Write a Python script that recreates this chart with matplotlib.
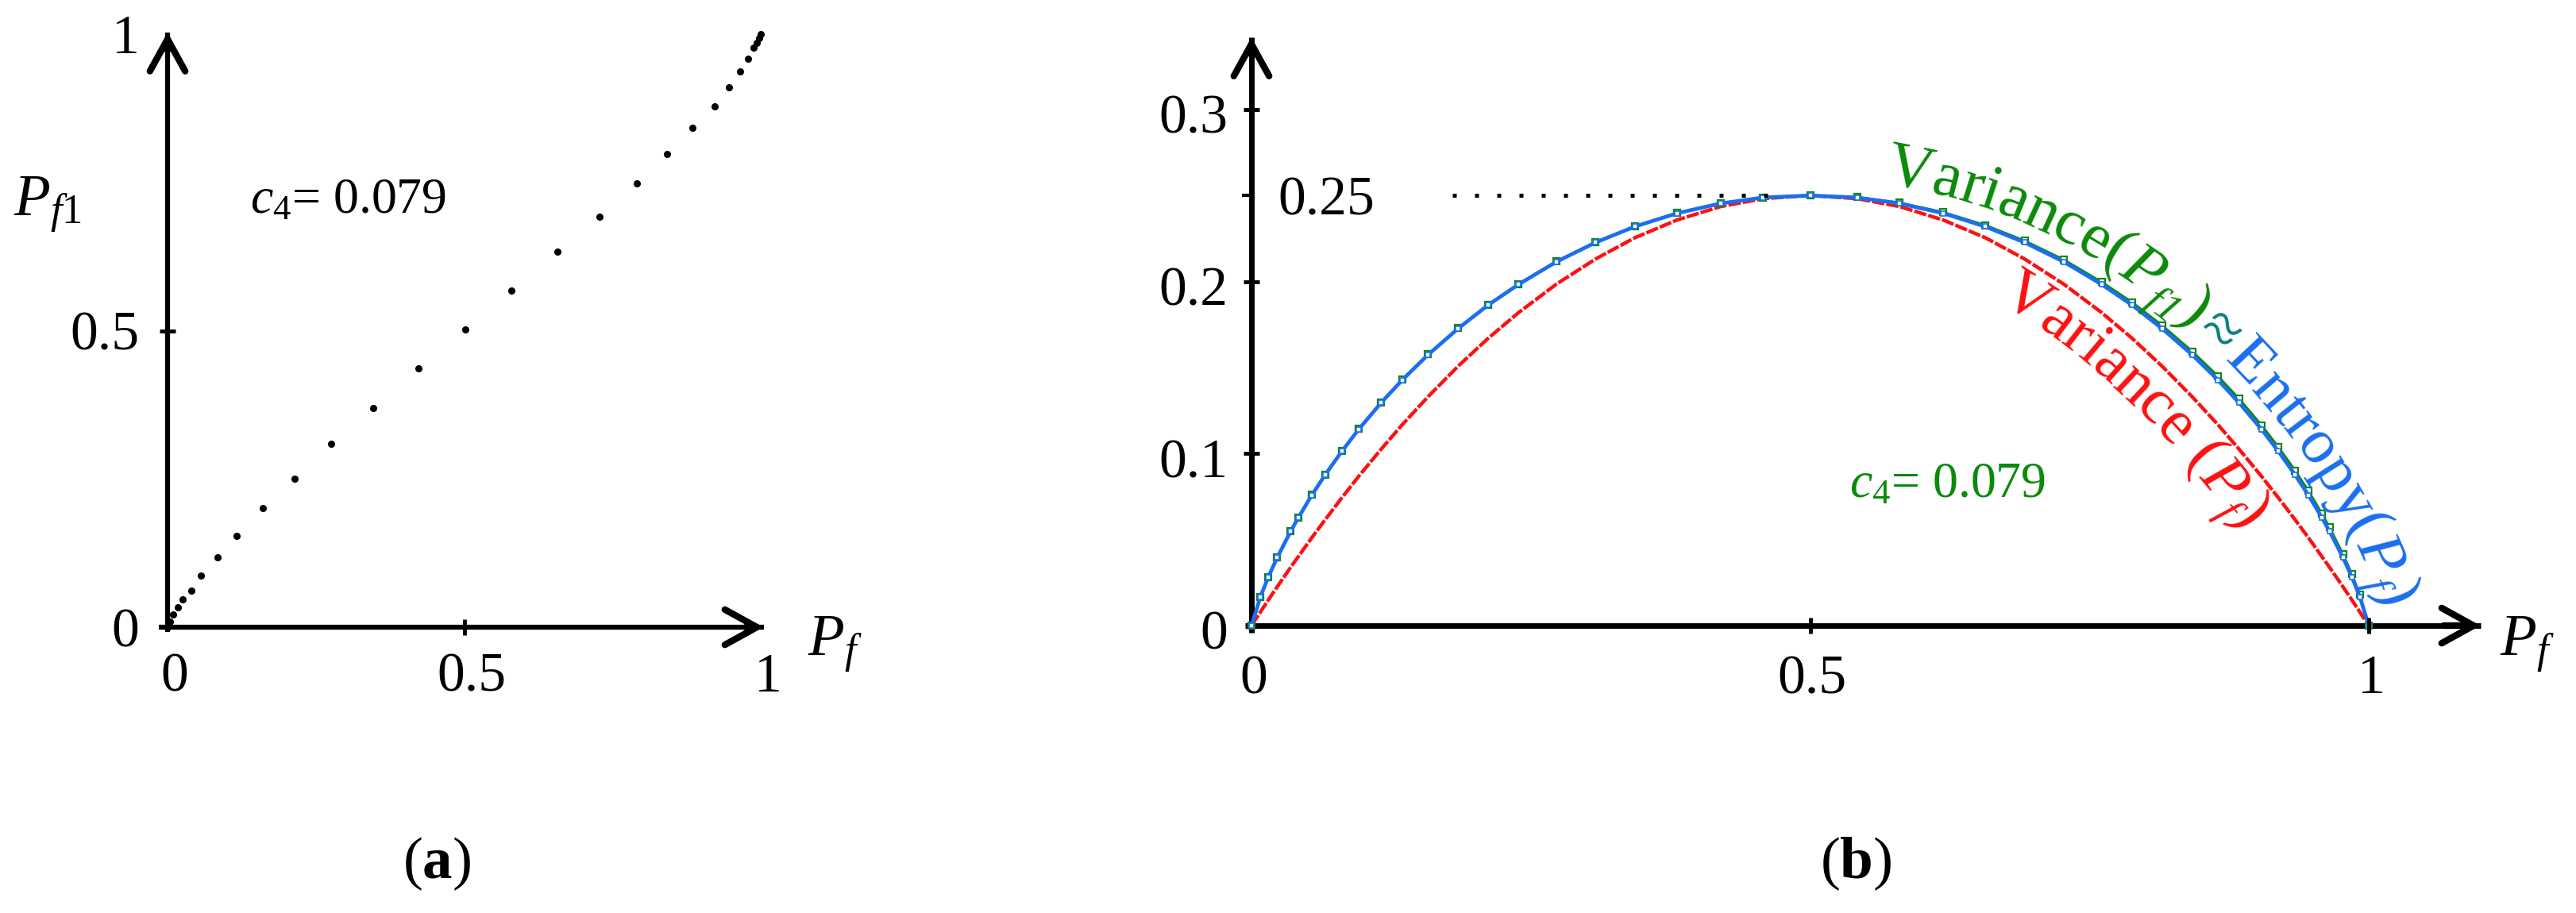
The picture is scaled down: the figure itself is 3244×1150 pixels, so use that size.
import numpy as np
import matplotlib
matplotlib.use("Agg")
import matplotlib.pyplot as plt
from matplotlib.font_manager import FontProperties, findfont, get_font
from matplotlib.transforms import IdentityTransform

plt.rcParams['font.family'] = ['Liberation Serif', 'DejaVu Serif']
plt.rcParams['mathtext.fontset'] = 'custom'
plt.rcParams['mathtext.rm'] = 'Liberation Serif'
plt.rcParams['mathtext.it'] = 'Liberation Serif:italic'
plt.rcParams['mathtext.bf'] = 'Liberation Serif:bold'

# ---- data ----
# (a) Pf1 against Pf, dotted
pf_a = [0.0, 0.004, 0.010, 0.017, 0.025, 0.040, 0.056, 0.084, 0.117, 0.161, 0.214,
        0.276, 0.347, 0.423, 0.502, 0.580, 0.657, 0.728, 0.791, 0.842, 0.885,
        0.922, 0.947, 0.965, 0.979, 0.988, 0.993, 0.997, 1.0]
pf1_a = [0.0, 0.009, 0.021, 0.033, 0.047, 0.062, 0.087, 0.118, 0.154, 0.201, 0.250,
         0.309, 0.369, 0.436, 0.502, 0.568, 0.633, 0.692, 0.748, 0.798, 0.842,
         0.878, 0.910, 0.937, 0.959, 0.977, 0.985, 0.993, 1.0]

# (b) curves against Pf
pf_b = [0.0, 0.008, 0.015, 0.023, 0.035, 0.042, 0.054, 0.066, 0.081, 0.096, 0.116,
        0.135, 0.158, 0.185, 0.212, 0.239, 0.273, 0.308, 0.343, 0.381, 0.420, 0.458,
        0.500, 0.542, 0.580, 0.619, 0.657, 0.692, 0.727, 0.761, 0.788, 0.815, 0.842,
        0.865, 0.884, 0.904, 0.919, 0.934, 0.946, 0.958, 0.965, 0.977, 0.985, 0.992, 1.0]
var_pf = [0.0, 0.0079, 0.0148, 0.0225, 0.0338, 0.0402, 0.0511, 0.0616, 0.0744, 0.0868, 0.1025,
          0.1168, 0.1330, 0.1508, 0.1671, 0.1819, 0.1985, 0.2131, 0.2254, 0.2358, 0.2436, 0.2482,
          0.2500, 0.2482, 0.2436, 0.2358, 0.2254, 0.2131, 0.1985, 0.1819, 0.1671, 0.1508, 0.1330,
          0.1168, 0.1025, 0.0868, 0.0744, 0.0616, 0.0511, 0.0402, 0.0338, 0.0225, 0.0148, 0.0079, 0.0]
entropy_pf = [0.0, 0.0168, 0.0281, 0.0395, 0.0547, 0.0628, 0.0758, 0.0877, 0.1014, 0.1141, 0.1295,
              0.1428, 0.1574, 0.1727, 0.1864, 0.1983, 0.2115, 0.2227, 0.2319, 0.2397, 0.2454, 0.2488,
              0.2500, 0.2488, 0.2454, 0.2397, 0.2319, 0.2227, 0.2115, 0.1983, 0.1864, 0.1727, 0.1574,
              0.1428, 0.1295, 0.1141, 0.1014, 0.0877, 0.0758, 0.0628, 0.0547, 0.0395, 0.0281, 0.0168, 0.0]
var_pf1 = [0.0, 0.0168, 0.0282, 0.0396, 0.0548, 0.0629, 0.0760, 0.0879, 0.1016, 0.1143, 0.1297,
           0.1430, 0.1576, 0.1729, 0.1866, 0.1985, 0.2117, 0.2229, 0.2321, 0.2399, 0.2455, 0.2489,
           0.2500, 0.2490, 0.2458, 0.2403, 0.2327, 0.2237, 0.2127, 0.1997, 0.1880, 0.1745, 0.1594,
           0.1450, 0.1318, 0.1165, 0.1039, 0.0902, 0.0783, 0.0652, 0.0570, 0.0415, 0.0298, 0.0180, 0.0]

a_xticks = [0, 0.5, 1]
a_xlabels = ['0', '0.5', '1']
a_yticks = [0, 0.5, 1]
a_ylabels = ['0', '0.5', '1']
b_xticks = [0, 0.5, 1]
b_xlabels = ['0', '0.5', '1']
b_yticks = [0, 0.1, 0.2, 0.3]
b_ylabels = ['0', '0.1', '0.2', '0.3']
peak = 0.25

GREEN = '#0b8a0b'
BLUE = '#1a6ff0'
RED = '#ff1010'
TEAL = '#0a7f7f'

W, H, DPI = 3244, 1150, 100
fig = plt.figure(figsize=(W / DPI, H / DPI), dpi=DPI)


def place(ax, x0, sx, y0, sy, xlim, ylim):
    # x0/y0: pixel of data origin (y from top), sx/sy: pixels per unit
    left, right = x0 + sx * xlim[0], x0 + sx * xlim[1]
    bottom, top = y0 - sy * ylim[0], y0 - sy * ylim[1]
    ax.set_position([left / W, (H - bottom) / H, (right - left) / W, (bottom - top) / H])
    ax.set_xlim(xlim)
    ax.set_ylim(ylim)
    ax.axis('off')


def axes_arrows(ax, xtip, ytip, x0, y0, lw=4.5):
    ax.plot([x0, xtip], [0, 0], color='k', lw=lw, solid_capstyle='butt', clip_on=False)
    ax.plot([0, 0], [y0, ytip], color='k', lw=lw, solid_capstyle='butt', clip_on=False)
    style = '->,head_length=2.9,head_width=1.6'
    ax.annotate('', xy=(xtip, 0), xytext=(xtip * 0.97, 0),
                arrowprops=dict(arrowstyle=style, lw=6, color='k', shrinkA=0, shrinkB=0,
                                mutation_scale=10))
    ax.annotate('', xy=(0, ytip), xytext=(0, ytip * 0.97),
                arrowprops=dict(arrowstyle=style, lw=6, color='k', shrinkA=0, shrinkB=0,
                                mutation_scale=10))


def path_text(ax, xs, ys, p0, parts, offset, size):
    p = np.linspace(p0, xs[-1], 4000)
    y = np.interp(p, xs, ys)
    pts = ax.transData.transform(np.column_stack([p, y]))
    d = np.gradient(pts, axis=0)
    ang = np.unwrap(np.arctan2(d[:, 1], d[:, 0]))
    k = 151
    ang = np.convolve(np.pad(ang, k // 2, mode='edge'), np.ones(k) / k, mode='valid')
    off = pts + offset * np.column_stack([-np.sin(ang), np.cos(ang)])
    tend = np.array([np.cos(ang[-1]), np.sin(ang[-1])])
    ext = off[-1] + np.outer(np.linspace(1, 400, 200), tend)
    off = np.vstack([off, ext])
    ang = np.concatenate([ang, np.full(200, ang[-1])])
    s = np.concatenate([[0], np.cumsum(np.hypot(*np.diff(off, axis=0).T))])
    em = size * DPI / 72
    pos = 0.0
    for txt, color, scale, shift, style in parts:
        prop = FontProperties(family='Liberation Serif', style=style, size=size * scale)
        font = get_font(findfont(prop))
        font.set_size(size * scale, DPI)
        for ch in txt:
            adv = font.load_char(ord(ch)).linearHoriAdvance / 65536
            sc = pos + adv / 2
            a = np.interp(sc, s, ang)
            x = np.interp(sc, s, off[:, 0]) - np.sin(a) * shift * em
            yy = np.interp(sc, s, off[:, 1]) + np.cos(a) * shift * em
            if ch.strip():
                ax.text(x, yy, ch, transform=IdentityTransform(), rotation=np.degrees(a),
                        rotation_mode='anchor', ha='center', va='baseline',
                        fontproperties=prop, color=color)
            pos += adv


# ---------------- panel (a) ----------------
ax1 = fig.add_axes([0, 0, 1, 1])
place(ax1, 211, 747, 790, 747, (-0.28, 1.15), (-0.1, 1.05))
axes_arrows(ax1, 1.005, 1.003, -0.015, -0.008)
ax1.plot(pf_a, pf1_a, 'o', color='k', ms=5.5, clip_on=False)
ax1.plot([0.5], [0], '|', color='k', ms=14, mew=3.5)
ax1.plot([0], [0.5], '_', color='k', ms=14, mew=3.5)
for v, lab in zip(a_xticks, a_xlabels):
    ax1.text(v + 0.012, -0.043, lab, ha='center', va='top', fontsize=50)
for v, lab in zip(a_yticks, a_ylabels):
    ax1.text(-0.048, v - 0.01, lab, ha='right', va='center', fontsize=50)
ax1.text(-0.26, 0.695, r'$P_{f1}$', ha='left', va='baseline', fontsize=54)
ax1.text(1.079, -0.047, r'$P_f$', ha='left', va='baseline', fontsize=54)
ax1.text(0.139, 0.699, r'$c_4$= 0.079', ha='left', va='baseline', fontsize=46)

# ---------------- panel (b) ----------------
ax2 = fig.add_axes([0, 0, 1, 1])
place(ax2, 1576, 1407, 788, 2167, (-0.1, 1.18), (-0.05, 0.36))
axes_arrows(ax2, 1.1, 0.342, -0.006, -0.004, lw=5)
ax2.plot(pf_b, var_pf, color=RED, lw=3.2, dashes=(3.5, 0.6), clip_on=False)
ax2.plot(pf_b, var_pf1, color=GREEN, lw=2.2, marker='s', ms=6, mfc='white',
         mec=GREEN, mew=1.6, clip_on=False)
ax2.plot(pf_b, entropy_pf, color=BLUE, lw=3.4, marker='s', ms=4, mfc='white',
         mec=BLUE, mew=1.2, clip_on=False)
ax2.plot([0.18, 0.47], [peak, peak], color='k', lw=3.6, dashes=(1, 4.6))
ax2.plot([0.5, 1], [0, 0], '|', color='k', ms=14, mew=3.5)
ax2.plot([0] * 3, b_yticks[1:], '_', color='k', ms=14, mew=3.5)
ax2.plot([0], [peak], marker=0, color='k', ms=9, mew=3)
for v, lab in zip(b_xticks, b_xlabels):
    ax2.text(v + 0.002, -0.017, lab, ha='center', va='top', fontsize=50)
for v, lab in zip(b_yticks, b_ylabels):
    ax2.text(-0.021, v - 0.006, lab, ha='right', va='center', fontsize=50)
ax2.text(0.024, 0.2386, '0.25', ha='left', va='baseline', fontsize=50)
ax2.text(1.117, -0.017, r'$P_f$', ha='left', va='baseline', fontsize=54)
ax2.text(0.535, 0.0748, r'$c_4$= 0.079', ha='left', va='baseline', fontsize=46, color=GREEN)

path_text(ax2, pf_b, entropy_pf, 0.564, [
    ('Variance(', GREEN, 1, 0, 'normal'),
    ('P', GREEN, 1, 0, 'italic'),
    ('f1', GREEN, 0.65, -0.18, 'italic'),
    (')', GREEN, 1, 0, 'normal'),
    (' ', TEAL, 0.3, 0, 'normal'),
    ('\u2248', TEAL, 1, 0, 'normal'),
    (' ', TEAL, 0.3, 0, 'normal'),
    ('Entropy(', BLUE, 1, 0, 'normal'),
    ('P', BLUE, 1, 0, 'italic'),
    ('f', BLUE, 0.65, -0.18, 'italic'),
    (')', BLUE, 1, 0, 'normal'),
], offset=22, size=58)

path_text(ax2, pf_b, var_pf, 0.69, [
    ('Variance (', RED, 1, 0, 'normal'),
    ('P', RED, 1, 0, 'italic'),
    ('f', RED, 0.65, -0.18, 'italic'),
    (')', RED, 1, 0, 'normal'),
], offset=-62, size=58)

fig.text(550 / W, 1 - 1088 / H, r'($\mathbf{a}$)', ha='center', va='center', fontsize=54)
fig.text(2337 / W, 1 - 1088 / H, r'($\mathbf{b}$)', ha='center', va='center', fontsize=54)

fig.savefig('out.png', dpi=DPI)
